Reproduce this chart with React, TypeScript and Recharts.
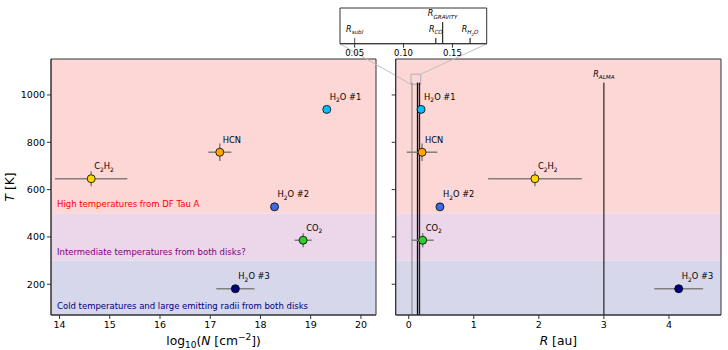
import React from 'react';
import {
  ScatterChart,
  Scatter,
  XAxis,
  YAxis,
  ErrorBar,
  ReferenceArea,
  ReferenceLine,
  Label,
} from 'recharts';

// molecules, "_n" marks a subscript digit
const species = ['H_2O #1', 'HCN', 'C_2H_2', 'H_2O #2', 'CO_2', 'H_2O #3'];
const speciesColors = ['#00bfff', '#ffa500', '#ffd700', '#4169e1', '#32cd32', '#000080'];
const temperature = [939, 758, 646, 527, 386, 181];
const temperatureErr = [0, 37, 32, 0, 30, 0];
const logColumn = [19.32, 17.19, 14.63, 18.28, 18.85, 17.5];
const logColumnErr = [0, 0.23, 0.72, 0, 0.17, 0.38];
const radius = [0.19, 0.205, 1.94, 0.48, 0.215, 4.15];
const radiusErr = [0, 0.235, 0.72, 0, 0.17, 0.375];

// characteristic radii (au)
const radiusNames = ['subl', 'CO', 'GRAVITY', 'H_2O'];
const radiusValues = [0.05, 0.133, 0.14, 0.168];
const almaRadius = 3;

const bandNames = [
  'High temperatures from DF Tau A',
  'Intermediate temperatures from both disks?',
  'Cold temperatures and large emitting radii from both disks',
];
const bandLower = [500, 300, 70];
const bandUpper = [1152, 500, 300];
const bandFills = ['#fdd6d6', '#ebd6ea', '#d6d7eb'];
const bandText = ['#ff0000', '#800080', '#000080'];

const tempTicks = [200, 400, 600, 800, 1000];
const logColumnTicks = [14, 15, 16, 17, 18, 19, 20];
const radiusTicks = [0, 1, 2, 3, 4];
const insetTicks = [0.05, 0.1, 0.15];

const tempDomain = [70, 1152];
const logColumnDomain = [13.83, 20.3];
const radiusDomain = [-0.2, 4.8];
const insetXDomain = [0.035, 0.185];
const insetYDomain = [1045, 1088];
const lineTop = 1052;

const FONT = 'DejaVu Sans';

const rows = species.map((name, i) => ({
  name,
  color: speciesColors[i],
  T: temperature[i],
  dT: temperatureErr[i],
  logN: logColumn[i],
  dlogN: logColumnErr[i],
  R: radius[i],
  dR: radiusErr[i],
}));

const radiusLabels = radiusNames.map((name, i) => ({ name, R: radiusValues[i] }));

const Formula = ({ x, y, text, fontSize, anchor = 'start' }: any) => {
  const parts = text.split(/_(\d)/);
  return (
    <text x={x} y={y} fontSize={fontSize} fontFamily={FONT} fill="#000" textAnchor={anchor}>
      {parts.map((p: string, i: number) =>
        i % 2 ? (
          <tspan key={i} dy={fontSize * 0.3} fontSize={fontSize * 0.72}>{p}</tspan>
        ) : (
          <tspan key={i} dy={i > 0 ? -fontSize * 0.3 : 0}>{p}</tspan>
        )
      )}
    </text>
  );
};

const Marker = (props: any) => {
  const { cx, cy, payload } = props;
  return (
    <g>
      <circle cx={cx} cy={cy} r={4} fill={payload.color} stroke="#000" strokeWidth={0.8} />
      <Formula x={cx + 3} y={cy - 9.5} text={payload.name} fontSize={8.3} />
    </g>
  );
};

const NoMarker = () => <g />;

// italic R with a subscript, centred above a point
const RLabel = ({ x, y, sub, size }: any) => {
  const parts = sub.split(/_(\d)/);
  return (
    <text x={x} y={y} fontSize={size} fontFamily={FONT} fontStyle="italic" textAnchor="middle" fill="#000">
      R
      <tspan dy={size * 0.3} fontSize={size * 0.7}>{parts[0]}</tspan>
      {parts.length > 1 && (
        <>
          <tspan dy={size * 0.2} fontSize={size * 0.5}>{parts[1]}</tspan>
          <tspan dy={-size * 0.2} fontSize={size * 0.7}>{parts[2]}</tspan>
        </>
      )}
    </text>
  );
};

const tickStyle = { fontSize: 9.5, fill: '#000', fontFamily: FONT };
const axisColor = '#333';

const App = () => {
  return (
    <div style={{ position: 'absolute', left: 0, top: 0, width: 728, height: 350, background: '#fff' }}>
      {/* left panel: T vs log N */}
      <div style={{ position: 'absolute', left: 0, top: 0 }}>
        <ScatterChart width={380} height={350} margin={{ top: 59, right: 4, bottom: 0, left: 0 }}>
          <XAxis
            type="number"
            dataKey="logN"
            domain={logColumnDomain}
            ticks={logColumnTicks}
            allowDataOverflow
            height={35}
            tickSize={4}
            tick={tickStyle}
            stroke={axisColor}
          >
            <Label
              content={({ viewBox }: any) => (
                <text
                  x={viewBox.x + viewBox.width / 2}
                  y={viewBox.y + 29.5}
                  fontSize={12.3}
                  fontFamily={FONT}
                  textAnchor="middle"
                  fill="#000"
                >
                  log<tspan dy={3} fontSize={9}>10</tspan>
                  <tspan dy={-3}>(</tspan>
                  <tspan fontStyle="italic">N</tspan> [cm
                  <tspan dy={-4.5} fontSize={9}>−2</tspan>
                  <tspan dy={4.5}>])</tspan>
                </text>
              )}
            />
          </XAxis>
          <YAxis
            type="number"
            dataKey="T"
            domain={tempDomain}
            ticks={tempTicks}
            allowDataOverflow
            width={51}
            tickSize={4}
            tick={tickStyle}
            stroke={axisColor}
          >
            <Label
              content={({ viewBox }: any) => {
                const cx = viewBox.x + 10;
                const cy = viewBox.y + viewBox.height / 2;
                return (
                  <text
                    x={cx}
                    y={cy}
                    transform={`rotate(-90 ${cx} ${cy})`}
                    fontSize={12.3}
                    fontFamily={FONT}
                    textAnchor="middle"
                    dominantBaseline="central"
                    fill="#000"
                  >
                    <tspan fontStyle="italic">T</tspan> [K]
                  </text>
                );
              }}
            />
          </YAxis>
          {bandNames.map((name, i) => (
            <ReferenceArea key={name} y1={bandLower[i]} y2={bandUpper[i]} fill={bandFills[i]} fillOpacity={1} stroke="none">
              <Label
                value={name}
                position="insideBottomLeft"
                offset={6}
                fontSize={8.5}
                fontFamily={FONT}
                fill={bandText[i]}
              />
            </ReferenceArea>
          ))}
          <ReferenceArea
            x1={logColumnDomain[0]}
            x2={logColumnDomain[1]}
            y1={tempDomain[0]}
            y2={tempDomain[1]}
            fill="none"
            stroke={axisColor}
            strokeWidth={1}
          />
          <Scatter data={rows} shape={NoMarker} isAnimationActive={false}>
            <ErrorBar dataKey="dlogN" direction="x" width={0} stroke="#808080" strokeWidth={1.5} />
            <ErrorBar dataKey="dT" direction="y" width={0} stroke="#808080" strokeWidth={1.5} />
          </Scatter>
          <Scatter data={rows} shape={Marker} isAnimationActive={false} />
        </ScatterChart>
      </div>

      {/* right panel: T vs R */}
      <div style={{ position: 'absolute', left: 330, top: 0 }}>
        <ScatterChart width={398} height={350} margin={{ top: 59, right: 7, bottom: 0, left: 45.7 }}>
          <XAxis
            type="number"
            dataKey="R"
            domain={radiusDomain}
            ticks={radiusTicks}
            allowDataOverflow
            height={35}
            tickSize={4}
            tick={tickStyle}
            stroke={axisColor}
          >
            <Label
              content={({ viewBox }: any) => (
                <text
                  x={viewBox.x + viewBox.width / 2}
                  y={viewBox.y + 29.5}
                  fontSize={12.3}
                  fontFamily={FONT}
                  textAnchor="middle"
                  fill="#000"
                >
                  <tspan fontStyle="italic">R</tspan> [au]
                </text>
              )}
            />
          </XAxis>
          <YAxis
            type="number"
            dataKey="T"
            domain={tempDomain}
            ticks={tempTicks}
            allowDataOverflow
            width={20}
            tickSize={4}
            tickFormatter={() => ''}
            stroke={axisColor}
          />
          {bandNames.map((name, i) => (
            <ReferenceArea key={name} y1={bandLower[i]} y2={bandUpper[i]} fill={bandFills[i]} fillOpacity={1} stroke="none" />
          ))}
          <ReferenceArea
            x1={radiusDomain[0]}
            x2={radiusDomain[1]}
            y1={tempDomain[0]}
            y2={tempDomain[1]}
            fill="none"
            stroke={axisColor}
            strokeWidth={1}
          />
          {radiusValues.map((r, i) => (
            <ReferenceLine
              key={radiusNames[i]}
              segment={[{ x: r, y: tempDomain[0] }, { x: r, y: lineTop }]}
              stroke={i === 0 ? '#808080' : '#000'}
              strokeWidth={1}
            />
          ))}
          <ReferenceLine
            segment={[{ x: almaRadius, y: tempDomain[0] }, { x: almaRadius, y: lineTop }]}
            stroke="#000"
            strokeWidth={1}
          />
          {/* zoom indicator and connectors to the inset */}
          <ReferenceArea
            x1={insetXDomain[0]}
            x2={insetXDomain[1]}
            y1={insetYDomain[0]}
            y2={insetYDomain[1]}
            fill="none"
            stroke="#b0b0b0"
            strokeWidth={1}
          />
          <ReferenceLine
            segment={[{ x: insetXDomain[0], y: insetYDomain[0] }, { x: -1.057, y: 1216 }]}
            stroke="#c0c0c0"
            strokeWidth={1}
            ifOverflow="visible"
          />
          <ReferenceLine
            segment={[{ x: insetXDomain[1], y: insetYDomain[1] }, { x: 1.2, y: 1216 }]}
            stroke="#c0c0c0"
            strokeWidth={1}
            ifOverflow="visible"
          />
          <Scatter
            data={[{ R: almaRadius, T: lineTop }]}
            isAnimationActive={false}
            shape={(p: any) => <RLabel x={p.cx} y={p.cy - 6} sub="ALMA" size={8} />}
          />
          <Scatter data={rows} shape={NoMarker} isAnimationActive={false}>
            <ErrorBar dataKey="dR" direction="x" width={0} stroke="#808080" strokeWidth={1.5} />
            <ErrorBar dataKey="dT" direction="y" width={0} stroke="#808080" strokeWidth={1.5} />
          </Scatter>
          <Scatter data={rows} shape={Marker} isAnimationActive={false} />
        </ScatterChart>
      </div>

      {/* inset zoom on the inner radii */}
      <div style={{ position: 'absolute', left: 330, top: 0 }}>
        <ScatterChart width={170} height={70} margin={{ top: 8, right: 13.3, bottom: 0, left: 10 }}>
          <XAxis
            type="number"
            dataKey="R"
            domain={insetXDomain}
            ticks={insetTicks}
            allowDataOverflow
            height={26.3}
            tickSize={4}
            tick={{ fontSize: 8.5, fill: '#000', fontFamily: FONT }}
            tickFormatter={(v: number) => v.toFixed(2)}
            stroke={axisColor}
          />
          <YAxis type="number" dataKey="T" domain={insetYDomain} allowDataOverflow hide />
          <ReferenceArea
            x1={insetXDomain[0]}
            x2={insetXDomain[1]}
            y1={insetYDomain[0]}
            y2={insetYDomain[1]}
            fill="#fff"
            fillOpacity={1}
            stroke={axisColor}
            strokeWidth={1}
          />
          {radiusValues.map((r, i) => (
            <ReferenceLine
              key={radiusNames[i]}
              segment={[
                { x: r, y: insetYDomain[0] },
                { x: r, y: radiusNames[i] === 'GRAVITY' ? 1071 : lineTop },
              ]}
              stroke={i === 0 ? '#555' : '#000'}
              strokeWidth={1}
            />
          ))}
          <Scatter
            data={radiusLabels.map((d) => ({ ...d, T: d.name === 'GRAVITY' ? 1071 : lineTop }))}
            isAnimationActive={false}
            shape={(p: any) => <RLabel x={p.cx} y={p.cy - 6} sub={p.payload.name} size={8} />}
          />
        </ScatterChart>
      </div>
    </div>
  );
};

export default App;
